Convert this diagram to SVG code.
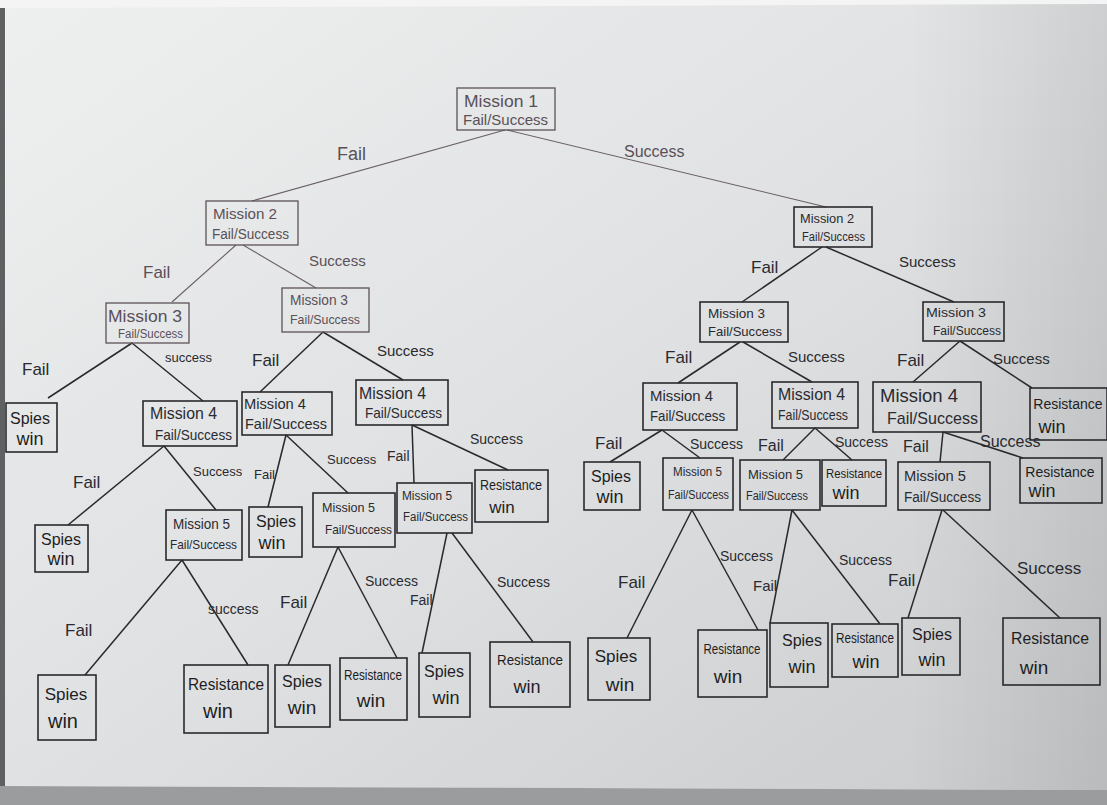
<svg xmlns="http://www.w3.org/2000/svg" width="1107" height="805" viewBox="0 0 1107 805">
<defs>
<linearGradient id="paper" x1="0" y1="0" x2="1" y2="1">
<stop offset="0" stop-color="#eef0f0"/>
<stop offset="0.5" stop-color="#dfe1e2"/>
<stop offset="1" stop-color="#c9cbcc"/>
</linearGradient>
<linearGradient id="rshade" x1="0" y1="0" x2="1" y2="0">
<stop offset="0.82" stop-color="#000" stop-opacity="0"/>
<stop offset="1" stop-color="#000" stop-opacity="0.08"/>
</linearGradient>
<style>
.box{fill:none;stroke:#2a2a2e;stroke-width:1.6}
.box.light{stroke:#5c5258;stroke-width:1.3}
.e{fill:none;stroke:#2a2a2e;stroke-width:1.5}
.e.light{stroke:#6a5f66;stroke-width:1.1}
.t{font-family:"Liberation Sans","DejaVu Sans",sans-serif;fill:#2a2a30}
.t.light{fill:#5a5058}
.lab{font-family:"Liberation Sans","DejaVu Sans",sans-serif;fill:#2a2a30}
.lab.light{fill:#5a5058}
.leaf{font-family:"Liberation Sans","DejaVu Sans",sans-serif;fill:#1e1e24;text-anchor:middle}
</style>
</defs>
<rect x="0" y="0" width="1107" height="805" fill="#f4f4f4"/>
<polygon points="6,8 1107,4 1107,790 4,786" fill="url(#paper)"/>
<polygon points="6,8 1107,4 1107,790 4,786" fill="url(#rshade)"/>
<rect x="0" y="8" width="5" height="797" fill="#5e6062"/>
<polygon points="0,786 1107,790 1107,805 0,805" fill="#9a9c9d"/>

<g id="connectors">
<line class="e light" x1="505" y1="130" x2="252" y2="201"/>
<line class="e light" x1="507" y1="130" x2="826" y2="207"/>
<line class="e light" x1="236" y1="245" x2="172" y2="302"/>
<line class="e light" x1="243" y1="245" x2="316" y2="288"/>
<line class="e" x1="132" y1="343" x2="48" y2="398"/>
<line class="e" x1="132" y1="343" x2="203" y2="401"/>
<line class="e" x1="323" y1="332" x2="260" y2="392"/>
<line class="e" x1="323" y1="332" x2="403" y2="380"/>
<line class="e" x1="164" y1="446" x2="68" y2="525"/>
<line class="e" x1="164" y1="446" x2="216" y2="510"/>
<line class="e" x1="286" y1="435" x2="268" y2="507"/>
<line class="e" x1="286" y1="435" x2="348" y2="493"/>
<line class="e" x1="412" y1="425" x2="414" y2="483"/>
<line class="e" x1="412" y1="425" x2="508" y2="470"/>
<line class="e" x1="182" y1="560" x2="85" y2="675"/>
<line class="e" x1="182" y1="560" x2="248" y2="665"/>
<line class="e" x1="338" y1="547" x2="288" y2="665"/>
<line class="e" x1="338" y1="547" x2="397" y2="658"/>
<line class="e" x1="447" y1="533" x2="422" y2="653"/>
<line class="e" x1="452" y1="533" x2="533" y2="642"/>
<line class="e" x1="822" y1="247" x2="742" y2="302"/>
<line class="e" x1="826" y1="247" x2="954" y2="302"/>
<line class="e" x1="740" y1="342" x2="678" y2="383"/>
<line class="e" x1="743" y1="342" x2="812" y2="382"/>
<line class="e" x1="960" y1="341" x2="913" y2="382"/>
<line class="e" x1="960" y1="341" x2="1032" y2="388"/>
<line class="e" x1="662" y1="430" x2="610" y2="462"/>
<line class="e" x1="662" y1="430" x2="700" y2="458"/>
<line class="e" x1="815" y1="428" x2="783" y2="460"/>
<line class="e" x1="815" y1="428" x2="852" y2="460"/>
<line class="e" x1="943" y1="432" x2="940" y2="462"/>
<line class="e" x1="943" y1="432" x2="1023" y2="458"/>
<line class="e" x1="692" y1="510" x2="627" y2="638"/>
<line class="e" x1="692" y1="510" x2="758" y2="630"/>
<line class="e" x1="792" y1="510" x2="770" y2="623"/>
<line class="e" x1="792" y1="510" x2="880" y2="624"/>
<line class="e" x1="942" y1="510" x2="908" y2="618"/>
<line class="e" x1="943" y1="510" x2="1060" y2="618"/>
</g>

<g id="edge-labels" font-size="15">
<text class="lab light" x="337" y="160" font-size="18">Fail</text>
<text class="lab light" x="624" y="157" font-size="16">Success</text>
<text class="lab light" x="143" y="278" font-size="17">Fail</text>
<text class="lab light" x="309" y="266">Success</text>
<text class="lab" x="22" y="375" font-size="17">Fail</text>
<text class="lab" x="165" y="362" font-size="13">success</text>
<text class="lab" x="252" y="366" font-size="17">Fail</text>
<text class="lab" x="377" y="356">Success</text>
<text class="lab" x="73" y="488" font-size="17">Fail</text>
<text class="lab" x="193" y="476" font-size="13">Success</text>
<text class="lab" x="254" y="479" font-size="13">Fail</text>
<text class="lab" x="327" y="464" font-size="13">Success</text>
<text class="lab" x="387" y="461" font-size="14">Fail</text>
<text class="lab" x="470" y="444" font-size="14">Success</text>
<text class="lab" x="65" y="636" font-size="17">Fail</text>
<text class="lab" x="208" y="614" font-size="14">success</text>
<text class="lab" x="280" y="608" font-size="17">Fail</text>
<text class="lab" x="365" y="586" font-size="14">Success</text>
<text class="lab" x="410" y="605" font-size="14">Fail</text>
<text class="lab" x="497" y="587" font-size="14">Success</text>
<text class="lab" x="751" y="273" font-size="17">Fail</text>
<text class="lab" x="899" y="267">Success</text>
<text class="lab" x="665" y="363" font-size="17">Fail</text>
<text class="lab" x="788" y="362">Success</text>
<text class="lab" x="897" y="366" font-size="17">Fail</text>
<text class="lab" x="993" y="364">Success</text>
<text class="lab" x="595" y="449" font-size="17">Fail</text>
<text class="lab" x="690" y="449" font-size="14">Success</text>
<text class="lab" x="758" y="451" font-size="16">Fail</text>
<text class="lab" x="835" y="447" font-size="14">Success</text>
<text class="lab" x="903" y="452" font-size="16">Fail</text>
<text class="lab" x="980" y="447" font-size="16">Success</text>
<text class="lab" x="618" y="588" font-size="17">Fail</text>
<text class="lab" x="720" y="561" font-size="14">Success</text>
<text class="lab" x="753" y="591" font-size="15">Fail</text>
<text class="lab" x="839" y="565" font-size="14">Success</text>
<text class="lab" x="888" y="586" font-size="17">Fail</text>
<text class="lab" x="1017" y="574" font-size="17">Success</text>
</g>

<g id="n1"><rect class="box light" x="457" y="88" width="98" height="42"/>
<text class="t light" x="464" y="107" font-size="17" textLength="74" lengthAdjust="spacingAndGlyphs">Mission 1</text>
<text class="t light" x="463" y="125" font-size="15" textLength="85" lengthAdjust="spacingAndGlyphs">Fail/Success</text></g>

<g id="n2L"><rect class="box light" x="206" y="201" width="92" height="44"/>
<text class="t light" x="213" y="219" font-size="15" textLength="64" lengthAdjust="spacingAndGlyphs">Mission 2</text>
<text class="t light" x="212" y="239" font-size="14" textLength="77" lengthAdjust="spacingAndGlyphs">Fail/Success</text></g>

<g id="n2R"><rect class="box" x="794" y="207" width="78" height="40"/>
<text class="t" x="800" y="223" font-size="13" textLength="54" lengthAdjust="spacingAndGlyphs">Mission 2</text>
<text class="t" x="802" y="241" font-size="12" textLength="63" lengthAdjust="spacingAndGlyphs">Fail/Success</text></g>

<g id="n3LL"><rect class="box light" x="106" y="303" width="83" height="40"/>
<text class="t light" x="108" y="322" font-size="17" textLength="74" lengthAdjust="spacingAndGlyphs">Mission 3</text>
<text class="t light" x="118" y="338" font-size="12" textLength="65" lengthAdjust="spacingAndGlyphs">Fail/Success</text></g>

<g id="n3LR"><rect class="box light" x="282" y="288" width="87" height="44"/>
<text class="t light" x="290" y="305" font-size="14" textLength="58" lengthAdjust="spacingAndGlyphs">Mission 3</text>
<text class="t light" x="290" y="324" font-size="13" textLength="70" lengthAdjust="spacingAndGlyphs">Fail/Success</text></g>

<g id="n3RL"><rect class="box" x="700" y="302" width="88" height="40"/>
<text class="t" x="708" y="318" font-size="13" textLength="57" lengthAdjust="spacingAndGlyphs">Mission 3</text>
<text class="t" x="708" y="336" font-size="13" textLength="74" lengthAdjust="spacingAndGlyphs">Fail/Success</text></g>

<g id="n3RR"><rect class="box" x="923" y="302" width="81" height="39"/>
<text class="t" x="926" y="317" font-size="13" textLength="60" lengthAdjust="spacingAndGlyphs">Mission 3</text>
<text class="t" x="933" y="335" font-size="12" textLength="68" lengthAdjust="spacingAndGlyphs">Fail/Success</text></g>

<g id="n4a"><rect class="box" x="143" y="401" width="94" height="45"/>
<text class="t" x="150" y="419" font-size="16" textLength="67" lengthAdjust="spacingAndGlyphs">Mission 4</text>
<text class="t" x="155" y="440" font-size="15" textLength="77" lengthAdjust="spacingAndGlyphs">Fail/Success</text></g>

<g id="n4b"><rect class="box" x="242" y="392" width="90" height="43"/>
<text class="t" x="244" y="409" font-size="15" textLength="62" lengthAdjust="spacingAndGlyphs">Mission 4</text>
<text class="t" x="245" y="429" font-size="15" textLength="82" lengthAdjust="spacingAndGlyphs">Fail/Success</text></g>

<g id="n4c"><rect class="box" x="356" y="380" width="92" height="45"/>
<text class="t" x="359" y="399" font-size="16" textLength="67" lengthAdjust="spacingAndGlyphs">Mission 4</text>
<text class="t" x="365" y="418" font-size="15" textLength="77" lengthAdjust="spacingAndGlyphs">Fail/Success</text></g>

<g id="n4d"><rect class="box" x="643" y="383" width="94" height="47"/>
<text class="t" x="650" y="401" font-size="15" textLength="63" lengthAdjust="spacingAndGlyphs">Mission 4</text>
<text class="t" x="650" y="421" font-size="14" textLength="75" lengthAdjust="spacingAndGlyphs">Fail/Success</text></g>

<g id="n4e"><rect class="box" x="772" y="382" width="86" height="46"/>
<text class="t" x="778" y="400" font-size="16" textLength="67" lengthAdjust="spacingAndGlyphs">Mission 4</text>
<text class="t" x="778" y="420" font-size="14" textLength="70" lengthAdjust="spacingAndGlyphs">Fail/Success</text></g>

<g id="n4f"><rect class="box" x="873" y="382" width="108" height="50"/>
<text class="t" x="880" y="402" font-size="18" textLength="78" lengthAdjust="spacingAndGlyphs">Mission 4</text>
<text class="t" x="887" y="424" font-size="17" textLength="91" lengthAdjust="spacingAndGlyphs">Fail/Success</text></g>

<g id="n5a"><rect class="box" x="166" y="510" width="76" height="50"/>
<text class="t" x="173" y="529" font-size="14" textLength="57" lengthAdjust="spacingAndGlyphs">Mission 5</text>
<text class="t" x="170" y="549" font-size="13" textLength="67" lengthAdjust="spacingAndGlyphs">Fail/Success</text></g>

<g id="n5b"><rect class="box" x="313" y="493" width="82" height="54"/>
<text class="t" x="322" y="512" font-size="13" textLength="53" lengthAdjust="spacingAndGlyphs">Mission 5</text>
<text class="t" x="325" y="534" font-size="13" textLength="67" lengthAdjust="spacingAndGlyphs">Fail/Success</text></g>

<g id="n5c"><rect class="box" x="397" y="483" width="75" height="50"/>
<text class="t" x="402" y="500" font-size="12" textLength="50" lengthAdjust="spacingAndGlyphs">Mission 5</text>
<text class="t" x="403" y="521" font-size="12" textLength="65" lengthAdjust="spacingAndGlyphs">Fail/Success</text></g>

<g id="n5d"><rect class="box" x="663" y="458" width="70" height="52"/>
<text class="t" x="673" y="476" font-size="12" textLength="49" lengthAdjust="spacingAndGlyphs">Mission 5</text>
<text class="t" x="668" y="499" font-size="12" textLength="61" lengthAdjust="spacingAndGlyphs">Fail/Success</text></g>

<g id="n5e"><rect class="box" x="740" y="460" width="80" height="50"/>
<text class="t" x="748" y="479" font-size="13" textLength="55" lengthAdjust="spacingAndGlyphs">Mission 5</text>
<text class="t" x="746" y="500" font-size="12" textLength="62" lengthAdjust="spacingAndGlyphs">Fail/Success</text></g>

<g id="n5f"><rect class="box" x="898" y="462" width="92" height="48"/>
<text class="t" x="904" y="481" font-size="15" textLength="62" lengthAdjust="spacingAndGlyphs">Mission 5</text>
<text class="t" x="904" y="502" font-size="14" textLength="77" lengthAdjust="spacingAndGlyphs">Fail/Success</text></g>

<g id="s1"><rect class="box" x="6" y="403" width="51" height="49"/>
<text class="leaf" x="30" y="424" font-size="16">Spies</text><text class="leaf" x="30" y="445" font-size="18">win</text></g>
<g id="s2"><rect class="box" x="35" y="525" width="53" height="47"/>
<text class="leaf" x="61" y="545" font-size="16">Spies</text><text class="leaf" x="61" y="565" font-size="18">win</text></g>
<g id="s3"><rect class="box" x="38" y="675" width="58" height="65"/>
<text class="leaf" x="66" y="700" font-size="17">Spies</text><text class="leaf" x="63" y="728" font-size="20">win</text></g>
<g id="r1"><rect class="box" x="184" y="665" width="84" height="68"/>
<text class="leaf" x="226" y="690" font-size="17" textLength="76" lengthAdjust="spacingAndGlyphs">Resistance</text><text class="leaf" x="218" y="718" font-size="20">win</text></g>
<g id="s4"><rect class="box" x="249" y="507" width="53" height="50"/>
<text class="leaf" x="276" y="527" font-size="16">Spies</text><text class="leaf" x="272" y="549" font-size="18">win</text></g>
<g id="s5"><rect class="box" x="275" y="665" width="55" height="62"/>
<text class="leaf" x="302" y="687" font-size="16">Spies</text><text class="leaf" x="302" y="714" font-size="19">win</text></g>
<g id="r2"><rect class="box" x="340" y="658" width="67" height="62"/>
<text class="leaf" x="373" y="680" font-size="15" textLength="58" lengthAdjust="spacingAndGlyphs">Resistance</text><text class="leaf" x="371" y="707" font-size="19">win</text></g>
<g id="r3"><rect class="box" x="475" y="470" width="73" height="52"/>
<text class="leaf" x="511" y="490" font-size="15" textLength="62" lengthAdjust="spacingAndGlyphs">Resistance</text><text class="leaf" x="502" y="513" font-size="17">win</text></g>
<g id="s6"><rect class="box" x="419" y="653" width="51" height="64"/>
<text class="leaf" x="444" y="677" font-size="16">Spies</text><text class="leaf" x="446" y="704" font-size="18">win</text></g>
<g id="r4"><rect class="box" x="490" y="642" width="80" height="65"/>
<text class="leaf" x="530" y="665" font-size="15" textLength="66" lengthAdjust="spacingAndGlyphs">Resistance</text><text class="leaf" x="527" y="693" font-size="18">win</text></g>
<g id="s7"><rect class="box" x="584" y="462" width="56" height="48"/>
<text class="leaf" x="611" y="482" font-size="16">Spies</text><text class="leaf" x="610" y="503" font-size="18">win</text></g>
<g id="s8"><rect class="box" x="588" y="638" width="62" height="62"/>
<text class="leaf" x="616" y="662" font-size="17">Spies</text><text class="leaf" x="620" y="691" font-size="19">win</text></g>
<g id="r5"><rect class="box" x="698" y="630" width="69" height="67"/>
<text class="leaf" x="732" y="654" font-size="14" textLength="57" lengthAdjust="spacingAndGlyphs">Resistance</text><text class="leaf" x="728" y="683" font-size="19">win</text></g>
<g id="r6"><rect class="box" x="822" y="460" width="64" height="46"/>
<text class="leaf" x="854" y="478" font-size="13" textLength="56" lengthAdjust="spacingAndGlyphs">Resistance</text><text class="leaf" x="846" y="499" font-size="18">win</text></g>
<g id="s9"><rect class="box" x="770" y="623" width="58" height="64"/>
<text class="leaf" x="802" y="646" font-size="16">Spies</text><text class="leaf" x="802" y="673" font-size="18">win</text></g>
<g id="r7"><rect class="box" x="832" y="624" width="66" height="53"/>
<text class="leaf" x="865" y="643" font-size="14" textLength="58" lengthAdjust="spacingAndGlyphs">Resistance</text><text class="leaf" x="866" y="668" font-size="18">win</text></g>
<g id="r8"><rect class="box" x="1030" y="388" width="77" height="52"/>
<text class="leaf" x="1068" y="409" font-size="14">Resistance</text><text class="leaf" x="1052" y="433" font-size="18">win</text></g>
<g id="r9"><rect class="box" x="1020" y="458" width="82" height="45"/>
<text class="leaf" x="1060" y="477" font-size="14">Resistance</text><text class="leaf" x="1042" y="497" font-size="18">win</text></g>
<g id="s10"><rect class="box" x="902" y="618" width="58" height="57"/>
<text class="leaf" x="932" y="640" font-size="16">Spies</text><text class="leaf" x="932" y="666" font-size="18">win</text></g>
<g id="r10"><rect class="box" x="1003" y="618" width="97" height="67"/>
<text class="leaf" x="1050" y="644" font-size="17" textLength="78" lengthAdjust="spacingAndGlyphs">Resistance</text><text class="leaf" x="1034" y="674" font-size="19">win</text></g>
</svg>
